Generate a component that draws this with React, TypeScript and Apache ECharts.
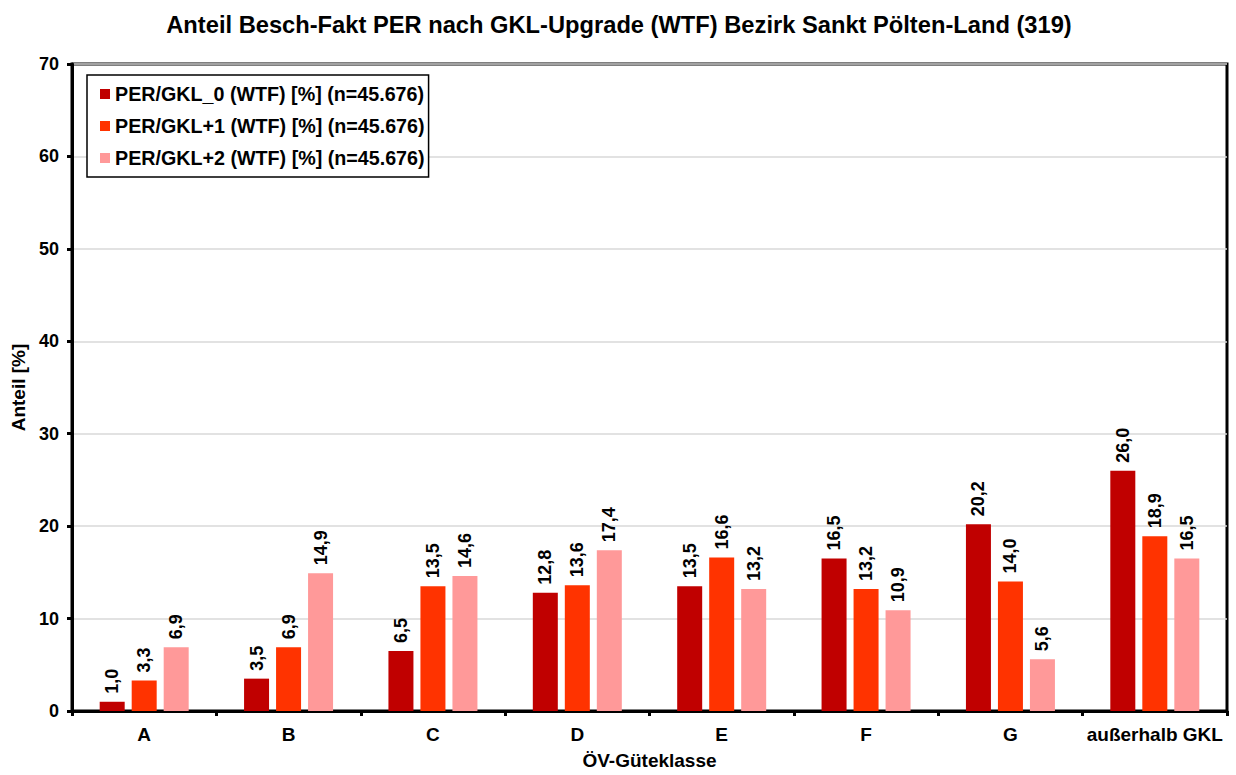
import React, { useEffect, useRef } from "react";
import * as echarts from "echarts";

const categories = ["A", "B", "C", "D", "E", "F", "G", "außerhalb GKL"];
const seriesNames = [
  "PER/GKL_0 (WTF) [%] (n=45.676)",
  "PER/GKL+1 (WTF) [%] (n=45.676)",
  "PER/GKL+2 (WTF) [%] (n=45.676)",
];
const gkl0 = [1.0, 3.5, 6.5, 12.8, 13.5, 16.5, 20.2, 26.0];
const gkl1 = [3.3, 6.9, 13.5, 13.6, 16.6, 13.2, 14.0, 18.9];
const gkl2 = [6.9, 14.9, 14.6, 17.4, 13.2, 10.9, 5.6, 16.5];
const colors = ["#C00000", "#FF3300", "#FF9999"];

const FONT = "'Liberation Sans', Arial, sans-serif";

export default function App() {
  const ref = useRef<HTMLDivElement>(null);
  useEffect(() => {
    document.body.style.margin = "0";
    if (!ref.current) return;
    const chart = echarts.init(ref.current, null, { renderer: "svg", width: 1236, height: 775 });
    const mk = (name: string, data: number[], color: string) => ({
      name,
      type: "bar",
      data,
      barWidth: 25,
      barGap: "28%",
      itemStyle: { color },
      label: {
        show: true,
        position: "top",
        rotate: 90,
        align: "left",
        verticalAlign: "middle",
        distance: 8,
        fontFamily: FONT,
        fontWeight: "bold",
        fontSize: 18,
        color: "#000",
        formatter: (p: any) => Number(p.value).toFixed(1).replace(".", ","),
      },
    });
    chart.setOption({
      animation: false,
      backgroundColor: "#fff",
      title: {
        text: "Anteil Besch-Fakt PER nach GKL-Upgrade (WTF) Bezirk Sankt Pölten-Land (319)",
        left: 614,
        textAlign: "center",
        top: 8,
        textStyle: { fontFamily: FONT, fontWeight: "bold", fontSize: 23.7, color: "#000" },
      },
      grid: {
        left: 72,
        top: 64,
        width: 1155,
        height: 651,
        show: true,
        borderColor: "#000",
        borderWidth: 3,
        containLabel: false,
      },
      legend: {
        orient: "vertical",
        left: 87,
        top: 75,
        data: seriesNames,
        icon: "rect",
        itemWidth: 10,
        itemHeight: 10,
        itemGap: 12,
        padding: [9, 4, 9, 13],
        borderColor: "#000",
        borderWidth: 1.5,
        backgroundColor: "#fff",
        textStyle: { fontFamily: FONT, fontWeight: "bold", fontSize: 19.7, color: "#000" },
      },
      xAxis: {
        type: "category",
        data: categories,
        name: "ÖV-Güteklasse",
        nameLocation: "middle",
        nameGap: 40,
        nameTextStyle: { fontFamily: FONT, fontWeight: "bold", fontSize: 19, color: "#000" },
        axisLine: { lineStyle: { color: "#000", width: 3 } },
        axisTick: { show: true, inside: false, length: 5, lineStyle: { color: "#000", width: 3 } },
        axisLabel: { fontFamily: FONT, fontWeight: "bold", fontSize: 19, color: "#000", margin: 14, interval: 0 },
      },
      yAxis: {
        type: "value",
        min: 0,
        max: 70,
        interval: 10,
        name: "Anteil [%]",
        nameLocation: "middle",
        nameGap: 41,
        nameTextStyle: { fontFamily: FONT, fontWeight: "bold", fontSize: 19, color: "#000" },
        axisLine: { show: true, lineStyle: { color: "#000", width: 3 } },
        axisTick: { show: true, length: 5, lineStyle: { color: "#000", width: 3 } },
        axisLabel: { fontFamily: FONT, fontWeight: "bold", fontSize: 18, color: "#000", margin: 13 },
        splitLine: { show: true, lineStyle: { color: "#d9d9d9", width: 1.5 } },
      },
      series: [mk(seriesNames[0], gkl0, colors[0]), mk(seriesNames[1], gkl1, colors[1]), mk(seriesNames[2], gkl2, colors[2])],
    });
    return () => chart.dispose();
  }, []);
  return <div ref={ref} style={{ width: 1236, height: 775 }} />;
}
